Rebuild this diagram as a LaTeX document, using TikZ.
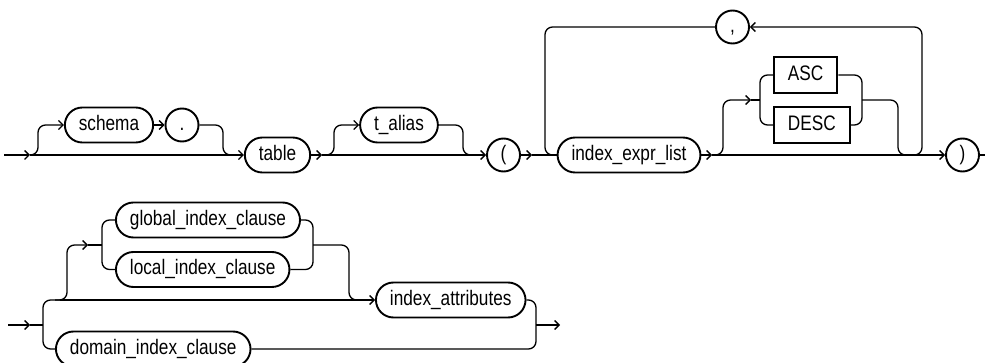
\documentclass[tikz,border=0pt]{standalone}
\usepackage{fontspec}
\setmainfont{Liberation Sans}[FakeStretch=0.82]
\usetikzlibrary{arrows.meta}
\tikzset{
  base/.style={draw, line width=1.9pt, font=\fontsize{21}{25}\selectfont,
    text height=15.5pt, text depth=4.5pt, inner xsep=14pt, inner ysep=0pt, minimum height=35pt},
  term/.style={base, rectangle, rounded corners=17.5pt},
  kw/.style={base, rectangle, minimum height=36pt},
  circ/.style={base, circle, inner sep=0pt, minimum size=33pt},
  conn/.style={line width=1.3pt, rounded corners=7.5pt},
  arr/.style={conn, -{Straight Barb[length=4.5pt,width=9pt]}},
}
\begin{document}
\begin{tikzpicture}[x=1pt,y=-1pt]
\useasboundingbox (0,0) rectangle (985,363);
% row 1 nodes
\node[term] (schema) at (109,125) {schema};
\node[circ] (dot) at (182,125) {.};
\node[term] (table) at (277.5,155) {table};
\node[term] (talias) at (399,125) {t\_alias};
\node[circ] (lp) at (503.5,155) {(};
\node[term] (iel) at (629,155) {index\_expr\_list};
\node[circ] (comma) at (732.5,27) {,};
\node[kw, anchor=west] (asc) at (773,75) {ASC};
\node[kw, anchor=west] (desc) at (773,125) {DESC};
\node[circ] (rp) at (962.5,155) {)};
% row 2 nodes
\node[term, anchor=west] (global) at (115,220) {global\_index\_clause};
\node[term, anchor=west] (local) at (115,269.5) {local\_index\_clause};
\node[term, anchor=west] (iattr) at (375,300) {index\_attributes};
\node[term, anchor=west] (domain) at (55,349) {domain\_index\_clause};
% row 1 connectors
\coordinate (a0) at (4,155);
\coordinate (a1) at (30,155);
\draw[arr] (a0) -- (a1);
\draw[arr] (a1) -- (table.west);
\draw[arr] (a1) -- (38,155) -- (38,125) -- (schema.west);
\draw[arr] (schema.east) -- (dot.west);
\draw[conn] (dot.east) -- (223,125) -- (223,155) -- (235,155);
\coordinate (b1) at (322,155);
\draw[arr] (table.east) -- (b1);
\draw[arr] (b1) -- (lp.west);
\draw[arr] (b1) -- (334,155) -- (334,125) -- (talias.west);
\draw[conn] (talias.east) -- (463,125) -- (463,155) -- (475,155);
\coordinate (c1) at (532,155);
\draw[arr] (lp.east) -- (c1);
\draw[conn] (c1) -- (iel.west);
\coordinate (d1) at (712,155);
\draw[arr] (iel.east) -- (d1);
\draw[arr] (d1) -- (rp.west);
\draw[arr] (d1) -- (723,155) -- (723,100) -- (751,100);
\draw[conn] (751,100) -- (760,100);
\draw[conn] (asc.west) -- (760,75) -- (760,125) -- (desc.west);
\draw[conn] (asc.east) -- (862,75) -- (862,125) -- (desc.east);
\draw[conn] (862,100) -- (898,100) -- (898,155) -- (910,155);
\draw[arr] (910,155) -- (922,155) -- (922,27) -- (comma.east);
\draw[conn] (comma.west) -- (545,27) -- (545,155) -- (iel.west);
\draw[conn] (rp.east) -- (985,155);
% row 2 connectors
\coordinate (e0) at (8,325);
\coordinate (e1) at (30,325);
\draw[arr] (e0) -- (e1);
\draw[conn] (e1) -- (43,325);
\draw[conn] (60,300) -- (43,300) -- (43,349) -- (domain.west);
\draw[arr] (60,300) -- (iattr.west);
\draw[arr] (55,300) -- (67,300) -- (67,245) -- (88,245);
\draw[conn] (88,245) -- (102,245);
\draw[conn] (global.west) -- (102,220) -- (102,269.5) -- (local.west);
\draw[conn] (global.east) -- (313,220) -- (313,269.5) -- (local.east);
\draw[conn] (313,245) -- (349,245) -- (349,300) -- (362,300);
\draw[conn] (iattr.east) -- (536,300) -- (536,349) -- (domain.east);
\draw[arr] (536,325) -- (560,325);
\end{tikzpicture}
\end{document}
